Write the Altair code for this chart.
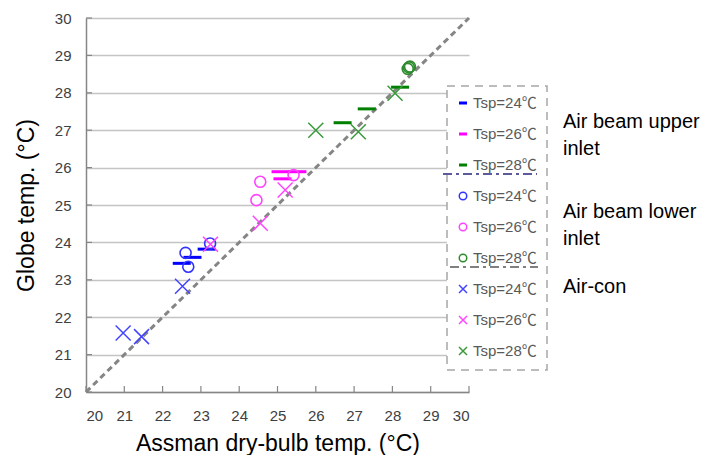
import altair as alt
import pandas as pd

FONT = "Liberation Sans, Arial, Noto Sans CJK JP, sans-serif"

tsp_levels = ["24", "26", "28"]
tsp_rows = ["24", "24", "24", "26", "26", "26", "28", "28", "28"]

# Air beam upper inlet (dash markers)
upper_x = [22.50, 22.78, 23.15, 25.08, 25.52, 25.13, 26.70, 27.33, 28.20]
upper_y = [23.44, 23.60, 23.82, 25.89, 25.89, 25.70, 27.20, 27.57, 28.15]
# Air beam lower inlet (circles)
lower_x = [22.60, 22.67, 23.24, 24.45, 24.55, 25.42, 28.40, 28.46, 28.43]
lower_y = [23.72, 23.35, 23.97, 25.13, 25.62, 25.80, 28.64, 28.70, 28.68]
# Air-con (crosses)
aircon_x = [20.97, 21.45, 22.52, 23.25, 24.55, 25.20, 26.00, 27.11, 28.07]
aircon_y = [21.58, 21.48, 22.83, 23.95, 24.51, 25.40, 27.00, 26.96, 27.99]

ref_x = [20, 30]
ref_y = [20, 30]
axis_ticks = [20, 21, 22, 23, 24, 25, 26, 27, 28, 29, 30]

dash_colors = ["#0000ff", "#ff00ff", "#008000"]
circle_colors = ["#3333ff", "#ff44ff", "#2e8b2e"]
cross_colors = ["#4444ff", "#ff44ff", "#3a9a3a"]

legend_labels = ["Tsp=24℃", "Tsp=26℃", "Tsp=28℃"] * 3
legend_groups = ["upper"] * 3 + ["lower"] * 3 + ["aircon"] * 3
legend_colors = dash_colors + circle_colors + cross_colors
annot_texts = ["Air beam upper\ninlet", "Air beam lower\ninlet", "Air-con"]

X_TITLE = "Assman dry-bulb temp. (°C)"
Y_TITLE = "Globe temp. (°C)"

sx = alt.Scale(domain=[20, 30], nice=False, zero=False)
sy = alt.Scale(domain=[20, 30], nice=False, zero=False)
ax_x = alt.Axis(values=axis_ticks, title=X_TITLE, grid=False, labelOverlap=False, tickCount=11)
ax_y = alt.Axis(values=axis_ticks, title=Y_TITLE, grid=True, labelOverlap=False, tickCount=11)

X = alt.X("x:Q", scale=sx, axis=ax_x)
Y = alt.Y("y:Q", scale=sy, axis=ax_y)

ref_df = pd.DataFrame({"x": ref_x, "y": ref_y})
tick_df = pd.DataFrame({"x": axis_ticks, "y": axis_ticks})

ref = alt.Chart(ref_df).mark_line(color="#858585", strokeWidth=3, strokeDash=[6, 4]).encode(x=X, y=Y)

xticks = alt.Chart(tick_df).mark_rule(color="#868686", strokeWidth=1.2).encode(
    x=X, y=alt.value(374), y2=alt.value(368)
)
yticks = alt.Chart(tick_df).mark_rule(color="#868686", strokeWidth=1.2).encode(
    y=Y, x=alt.value(0), x2=alt.value(6)
)


def pts(xs, ys, shape, size, sw, colors):
    df = pd.DataFrame({"x": xs, "y": ys, "tsp": tsp_rows})
    return alt.Chart(df).mark_point(
        shape=shape, size=size, strokeWidth=sw, filled=False, opacity=1
    ).encode(
        x=X,
        y=Y,
        color=alt.Color("tsp:N", scale=alt.Scale(domain=tsp_levels, range=colors), legend=None),
    )


CROSS = "M-1,-1L1,1M1,-1L-1,1"
DASH = "M-1,0L1,0"

upper = pts(upper_x, upper_y, DASH, 324, 3, dash_colors)
lower = pts(lower_x, lower_y, "circle", 121, 1.6, circle_colors)
aircon = pts(aircon_x, aircon_y, CROSS, 225, 1.5, cross_colors)

plot = alt.layer(ref, xticks, yticks, upper, lower, aircon).resolve_scale(color="independent")

# ---- custom legend box ----
leg_df = pd.DataFrame({
    "label": legend_labels,
    "group": legend_groups,
    "col": legend_colors,
    "idx": list(range(len(legend_labels))),
})
one = pd.DataFrame({"a": [0]})

box = alt.Chart(one).mark_rect(
    fill="white", stroke="#a6a6a6", strokeDash=[8, 6], strokeWidth=1.5
).encode(x=alt.value(361), x2=alt.value(461), y=alt.value(68), y2=alt.value(352))

sep1 = alt.Chart(one).mark_rule(color="#5b5b9b", strokeWidth=2, strokeDash=[9, 4, 3, 4]).encode(
    x=alt.value(357), x2=alt.value(451), y=alt.value(156)
)
sep2 = alt.Chart(one).mark_rule(color="#808080", strokeWidth=2, strokeDash=[9, 4, 3, 4]).encode(
    x=alt.value(364), x2=alt.value(452), y=alt.value(249)
)


def leg_marks(group, shape, size, sw):
    return alt.Chart(leg_df).transform_filter(
        alt.datum.group == group
    ).transform_calculate(py="85 + 31*datum.idx").mark_point(
        shape=shape, size=size, strokeWidth=sw, filled=False, opacity=1
    ).encode(
        x=alt.value(377),
        y=alt.Y("py:Q", scale=None, axis=None),
        color=alt.Color("col:N", scale=None, legend=None),
    )


leg_text = alt.Chart(leg_df).transform_calculate(py="85 + 31*datum.idx").mark_text(
    align="left", baseline="middle", fontSize=15, font=FONT, color="#595959"
).encode(x=alt.value(387), y=alt.Y("py:Q", scale=None, axis=None), text="label:N")

ann_y = [103.5, 193.5, 269]
ann_layers = []
for t, yy in zip(annot_texts, ann_y):
    ann_layers.append(
        alt.Chart(pd.DataFrame({"t": [t]})).mark_text(
            align="left", baseline="middle", fontSize=20, font=FONT, color="#000000",
            lineBreak="\n", lineHeight=27,
        ).encode(x=alt.value(477), y=alt.value(yy), text="t:N")
    )

legend = alt.layer(
    box, sep1, sep2,
    leg_marks("upper", DASH, 64, 3),
    leg_marks("lower", "circle", 56, 1.5),
    leg_marks("aircon", CROSS, 64, 1.5),
    leg_text, *ann_layers,
)

chart = alt.layer(plot, legend).resolve_scale(
    x="independent", y="independent", color="independent"
).properties(
    width=383, height=374,
    padding={"left": 78, "top": 10, "right": 235, "bottom": 63},
    autosize=alt.AutoSizeParams(type="none"),
).configure_view(stroke=None).configure_axis(
    domainColor="#868686", domainWidth=1.5, ticks=False,
    labelColor="#404040", labelFont=FONT, labelFontSize=15, labelPadding=15,
    titleFont=FONT, titleFontSize=23, titleFontWeight="normal", titleColor="#000000",
    gridColor="#c4c4c4", gridWidth=1.5,
).configure_axisX(titlePadding=9, labelPadding=16).configure_axisY(titlePadding=16)

chart.save("out.html", embed_options={"renderer": "svg", "actions": False})
